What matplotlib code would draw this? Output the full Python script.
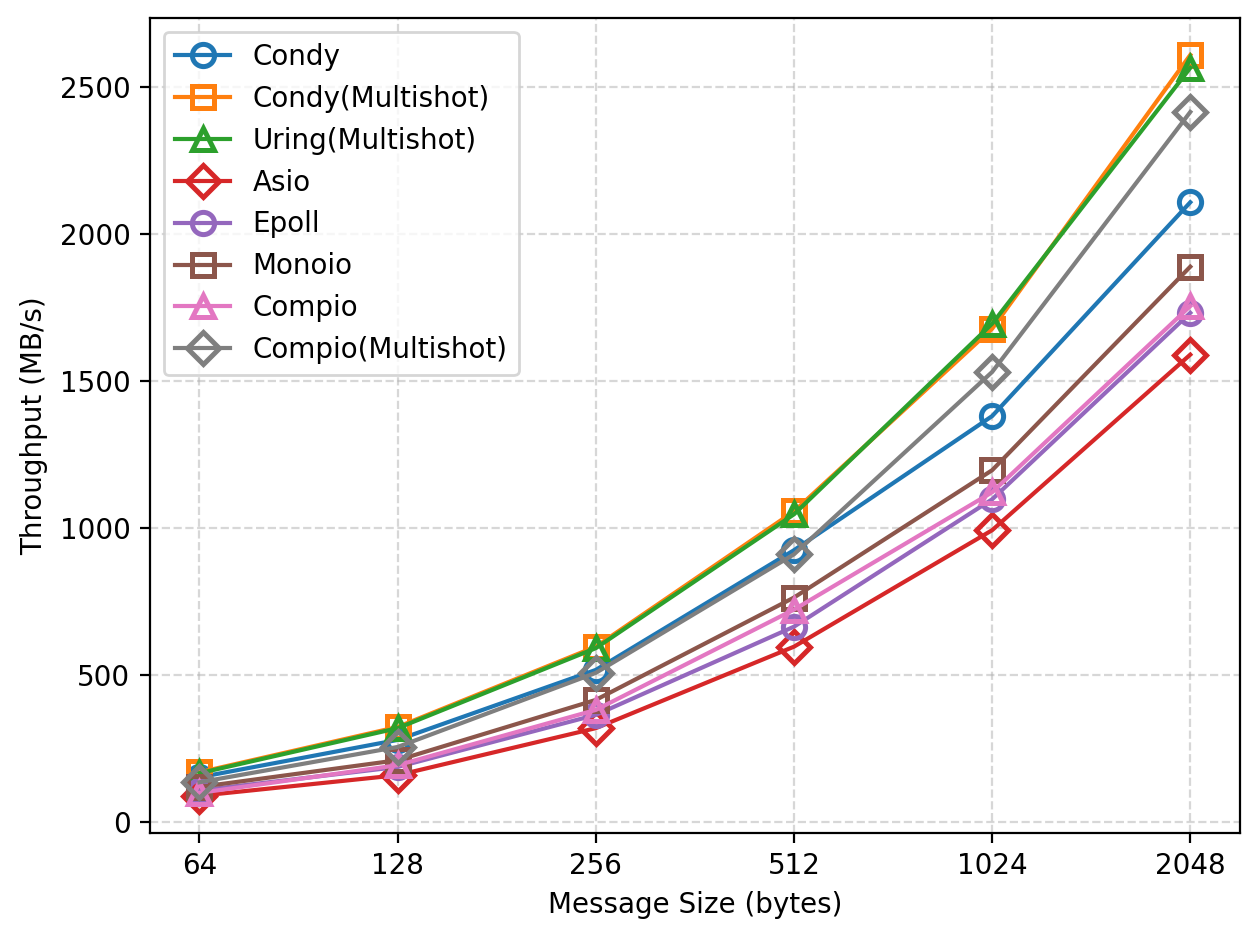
import numpy as np
import matplotlib
matplotlib.use('Agg')
import matplotlib.pyplot as plt

# message sizes on the x axis
sizes = ['64', '128', '256', '512', '1024', '2048']

# throughput values (MB/s)
condy = [153, 280, 518, 925, 1381, 2108]
condy_multishot = [170, 324, 597, 1057, 1678, 2609]
uring_multishot = [167, 320, 592, 1047, 1695, 2565]
asio = [90, 160, 320, 597, 993, 1590]
epoll = [108, 188, 365, 665, 1098, 1732]
monoio = [120, 211, 416, 764, 1197, 1889]
compio = [100, 194, 382, 723, 1122, 1755]
compio_multishot = [136, 256, 508, 911, 1531, 2415]

series = [
    ('Condy', condy, 'o'),
    ('Condy(Multishot)', condy_multishot, 's'),
    ('Uring(Multishot)', uring_multishot, '^'),
    ('Asio', asio, 'D'),
    ('Epoll', epoll, 'o'),
    ('Monoio', monoio, 's'),
    ('Compio', compio, '^'),
    ('Compio(Multishot)', compio_multishot, 'D'),
]

fig, ax = plt.subplots(figsize=(6.3, 4.7), dpi=200)
xs = np.arange(len(sizes))
for name, vals, mk in series:
    ax.plot(xs, vals, marker=mk, fillstyle='none', markersize=8,
            markeredgewidth=1.8, linewidth=1.5, label=name)

ax.set_xticks(xs)
ax.set_xticklabels(sizes)
ax.set_xlabel('Message Size (bytes)')
ax.set_ylabel('Throughput (MB/s)')
ax.grid(True, linestyle='--', alpha=0.5)
ax.legend(loc='upper left')
fig.subplots_adjust(left=0.119, right=0.984, top=0.981, bottom=0.114)
plt.savefig('out.png')
